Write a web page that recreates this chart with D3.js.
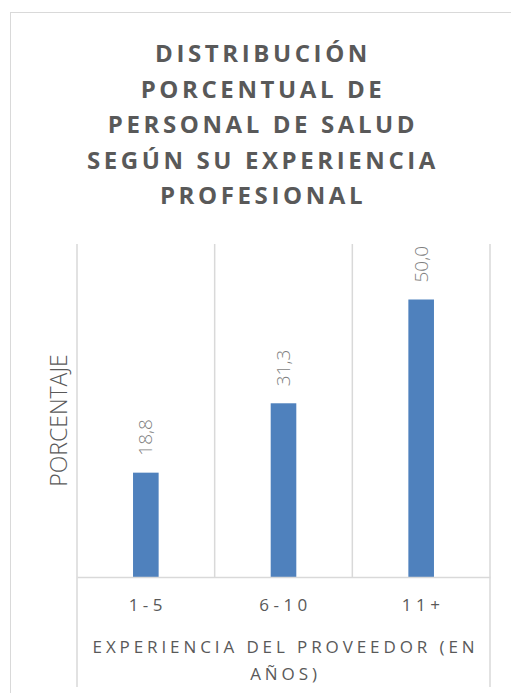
<!DOCTYPE html>
<html lang="es">
<head>
  <meta charset="utf-8">
  <title>Experiencia profesional</title>
  <script src="https://d3js.org/d3.v7.min.js"></script>
  <style>
    body { margin: 0; background: #fff; }
    text { font-family: "Open Sans", sans-serif; }
  </style>
</head>
<body>
<div id="chart"></div>
<script>
  const titleLines = ["DISTRIBUCIÓN", "PORCENTUAL DE", "PERSONAL DE SALUD", "SEGÚN SU EXPERIENCIA", "PROFESIONAL"];
  const categories = ["1-5", "6-10", "11+"];
  const values = [18.8, 31.3, 50.0];
  const yDomain = [0, 60];
  const xTitleLines = ["EXPERIENCIA DEL PROVEEDOR (EN", "AÑOS)"];
  const yTitle = "PORCENTAJE";

  const w = 511, h = 693;
  const plot = {left: 77, right: 490, top: 244, bottom: 577};
  const gray = "#595959";
  const gridColor = "#d9d9d9";

  const esFormat = d3.formatLocale({decimal: ",", thousands: ".", grouping: [3], currency: ["", "€"]}).format(".1f");

  const svg = d3.select("#chart").append("svg")
    .attr("width", w)
    .attr("height", h);

  // chart border
  svg.append("rect")
    .attr("x", 10.5).attr("y", 12.5)
    .attr("width", 520).attr("height", 700)
    .attr("fill", "none")
    .attr("stroke", gridColor);

  // title
  svg.append("g").selectAll("text")
    .data(titleLines)
    .enter().append("text")
    .attr("x", 263)
    .attr("y", (d, i) => 62 + i * 35.5)
    .attr("text-anchor", "middle")
    .style("font-size", "24px")
    .style("font-weight", "bold")
    .style("letter-spacing", "3.6px")
    .style("fill", gray)
    .text(d => d);

  const x = d3.scaleBand()
    .domain(categories)
    .range([plot.left, plot.right])
    .padding(0);

  const y = d3.scaleLinear()
    .domain(yDomain)
    .range([plot.bottom, plot.top]);

  // vertical gridlines between categories
  const bounds = categories.map(c => x(c)).concat([plot.right]);
  svg.append("g").selectAll("line")
    .data(bounds)
    .enter().append("line")
    .attr("x1", d => d).attr("x2", d => d)
    .attr("y1", plot.top)
    .attr("y2", (d, i) => (i === 0 || i === bounds.length - 1) ? 687 : plot.bottom)
    .attr("stroke", gridColor)
    .attr("stroke-width", 1.5);

  // bars
  const barW = x.bandwidth() * 0.186;
  svg.append("g").selectAll("rect")
    .data(values)
    .enter().append("rect")
    .attr("x", (d, i) => x(categories[i]) + (x.bandwidth() - barW) / 2)
    .attr("y", d => y(d))
    .attr("width", barW)
    .attr("height", d => y(0) - y(d))
    .attr("fill", "#4f81bd");

  // data labels
  svg.append("g").selectAll("text")
    .data(values)
    .enter().append("text")
    .attr("transform", (d, i) => `translate(${x(categories[i]) + x.bandwidth() / 2},${y(d) - 17}) rotate(-90)`)
    .attr("dy", "0.35em")
    .attr("text-anchor", "start")
    .style("font-size", "19px")
    .style("font-weight", 300)
    .style("fill", "#7f7f7f")
    .text(d => esFormat(d));

  // category axis
  const xAxis = svg.append("g")
    .attr("transform", `translate(0,${plot.bottom})`)
    .call(d3.axisBottom(x).tickSize(0).tickPadding(22));
  xAxis.select(".domain").attr("stroke", gridColor).attr("stroke-width", 1.5);
  xAxis.selectAll(".tick text")
    .attr("dx", "2px")
    .style("font-family", "'Open Sans', sans-serif")
    .style("font-size", "17px")
    .style("letter-spacing", "4.5px")
    .style("fill", gray);

  // axis titles
  svg.append("g").selectAll("text")
    .data(xTitleLines)
    .enter().append("text")
    .attr("x", (plot.left + plot.right) / 2 + 2)
    .attr("y", (d, i) => 653 + i * 27)
    .attr("text-anchor", "middle")
    .style("font-size", "17px")
    .style("letter-spacing", "3.9px")
    .style("fill", gray)
    .text(d => d);

  svg.append("text")
    .attr("transform", `translate(59,${(plot.top + plot.bottom) / 2 + 10}) rotate(-90)`)
    .attr("dy", "0.35em")
    .attr("text-anchor", "middle")
    .style("font-size", "23px")
    .style("font-weight", 300)
    .style("fill", gray)
    .text(yTitle);
</script>
</body>
</html>
